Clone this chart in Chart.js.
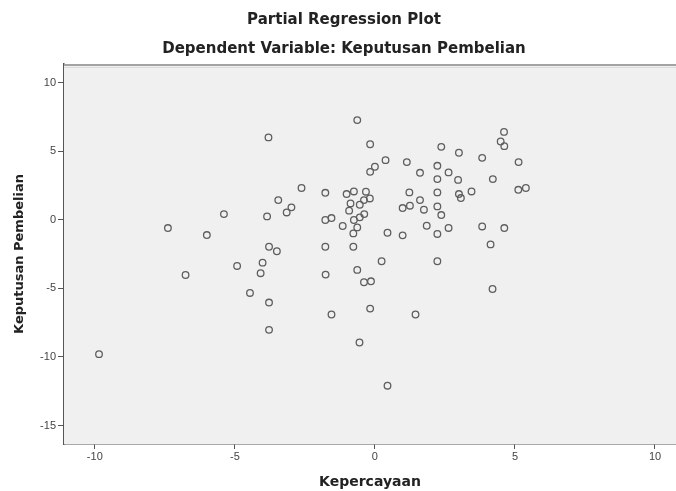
<!DOCTYPE html>
<html lang="en">
<head>
    <meta charset="UTF-8">
    <title>Partial Regression Plot</title>
    <script src="https://cdn.jsdelivr.net/npm/chart.js"></script>
    <style>
        * {
            margin: 0;
            padding: 0;
            box-sizing: border-box;
        }
        body {
            background-color: #fff;
            font-family: 'Liberation Sans', Arial, sans-serif;
        }
        .chart-container {
            width: 676px;
            height: 491px;
        }
    </style>
</head>
<body>
    <div class="chart-container">
        <canvas id="partialChart"></canvas>
    </div>

    <script>
        // Kepercayaan (x) and Keputusan Pembelian (y) residuals
        const kepercayaan = [
            -3.8, -3.45, -5.39, -3.85, -7.39, -6.0, -3.78, -0.63, -0.17, 2.37,
            0.38, 1.14, 0.0, -0.17, 2.23, 2.63, 1.61, 2.23, 2.97, -2.62,
            -1.77, -1.01, -0.75, -0.32, 1.23, 2.23, 3.0, -0.39, -0.18, -0.87,
            -0.54, 1.61, -2.98, -3.15, 1.25, 0.99, 1.75, 2.23, 2.37, -0.92,
            -1.77, -1.55, -0.75, -0.54, -0.38, -1.15, -0.63, -0.77, 0.45, 0.99,
            1.85, 2.23, 2.63, -3.5, -1.77, -0.77, 4.61, 4.49, 4.62, 3.0,
            3.83, 5.13, 4.21, 3.45, 3.07, 5.12, 5.39, 3.83, 4.62, 4.13,
            -4.92, -4.01, -4.08, -6.76, -4.46, -3.78, -3.78, -9.85, 0.24, 2.23,
            -1.76, -0.63, -0.39, -0.14, -1.55, -0.17, 1.45, -0.55, 0.45, 4.2
        ];
        const keputusan = [
            6.0, 1.43, 0.41, 0.24, -0.61, -1.12, -1.97, 7.26, 5.5, 5.31,
            4.34, 4.2, 3.86, 3.49, 3.93, 3.45, 3.42, 2.96, 2.9, 2.31,
            1.96, 1.87, 2.06, 2.04, 1.99, 1.99, 1.87, 1.43, 1.55, 1.19,
            1.09, 1.43, 0.9, 0.53, 1.02, 0.85, 0.73, 0.97, 0.34, 0.66,
            -0.02, 0.12, -0.02, 0.17, 0.41, -0.46, -0.56, -1.0, -0.95, -1.14,
            -0.44, -1.04, -0.6, -2.3, -1.97, -1.97, 6.4, 5.7, 5.36, 4.88,
            4.51, 4.2, 2.96, 2.06, 1.58, 2.18, 2.31, -0.49, -0.61, -1.8,
            -3.37, -3.13, -3.9, -4.03, -5.34, -6.04, -8.03, -9.8, -3.03, -3.03,
            -4.0, -3.66, -4.56, -4.49, -6.91, -6.48, -6.91, -8.95, -12.1, -5.05
        ];
        const xTicks = [-10, -5, 0, 5, 10];
        const yTicks = [-15, -10, -5, 0, 5, 10];

        const points = kepercayaan.map((x, i) => ({ x: x, y: keputusan[i] }));

        const wideFont = "'DejaVu Sans', Verdana, sans-serif";

        // grey plot area with the darker top edge SPSS draws
        const plotFrame = {
            id: 'plotFrame',
            beforeDatasetsDraw(chart) {
                const { ctx, chartArea: a } = chart;
                ctx.save();
                ctx.fillStyle = '#f0f0f0';
                ctx.fillRect(a.left, a.top, a.right - a.left, a.bottom - a.top);
                ctx.strokeStyle = '#a3a3a3';
                ctx.lineWidth = 2;
                ctx.beginPath();
                ctx.moveTo(a.left, a.top + 1);
                ctx.lineTo(a.right, a.top + 1);
                ctx.stroke();
                ctx.strokeStyle = '#dcdcdc';
                ctx.lineWidth = 1;
                ctx.beginPath();
                ctx.moveTo(a.left, a.top + 3.5);
                ctx.lineTo(a.right, a.top + 3.5);
                ctx.stroke();
                ctx.restore();
            }
        };

        function keepTicks(values) {
            return scale => {
                scale.ticks = values.map(v => ({ value: v }));
            };
        }

        Chart.defaults.font.family = "'Liberation Sans', Arial, sans-serif";

        new Chart(document.getElementById('partialChart').getContext('2d'), {
            type: 'scatter',
            data: {
                datasets: [{
                    data: points,
                    pointStyle: 'circle',
                    pointRadius: 3.3,
                    pointBorderWidth: 1.3,
                    pointBorderColor: '#5e5e5e',
                    pointBackgroundColor: 'rgba(0,0,0,0)'
                }]
            },
            options: {
                responsive: true,
                maintainAspectRatio: false,
                animation: false,
                layout: {
                    autoPadding: false,
                    padding: { left: 12, right: 0, top: 0, bottom: 0 }
                },
                plugins: {
                    legend: { display: false },
                    tooltip: { enabled: false },
                    title: {
                        display: true,
                        text: 'Partial Regression Plot',
                        color: '#222',
                        font: { family: wideFont, size: 15, weight: 'bold' },
                        padding: { top: 11, bottom: 6 }
                    },
                    subtitle: {
                        display: true,
                        text: 'Dependent Variable: Keputusan Pembelian',
                        color: '#222',
                        font: { family: wideFont, size: 15, weight: 'bold' },
                        padding: { top: 5, bottom: 6 }
                    }
                },
                scales: {
                    x: {
                        type: 'linear',
                        min: -11.1,
                        max: 10.75,
                        afterBuildTicks: keepTicks(xTicks),
                        afterFit: scale => {
                            scale.height = 47;
                            scale.paddingRight = 0;
                        },
                        grid: {
                            display: true,
                            drawOnChartArea: false,
                            drawTicks: true,
                            tickLength: 5,
                            color: '#555'
                        },
                        border: { color: '#555', width: 1.5 },
                        ticks: {
                            color: '#444',
                            font: { size: 11 },
                            padding: 1,
                            maxRotation: 0
                        },
                        title: {
                            display: true,
                            text: 'Kepercayaan',
                            color: '#222',
                            font: { family: wideFont, size: 14, weight: 'bold' },
                            padding: { top: 6, bottom: 0 }
                        }
                    },
                    y: {
                        type: 'linear',
                        min: -16.35,
                        max: 11.35,
                        afterBuildTicks: keepTicks(yTicks),
                        afterFit: scale => { scale.width = 52; },
                        grid: {
                            display: true,
                            drawOnChartArea: false,
                            drawTicks: true,
                            tickLength: 6,
                            color: '#555'
                        },
                        border: { color: '#555', width: 1.5 },
                        ticks: {
                            color: '#444',
                            font: { size: 11 },
                            padding: 2
                        },
                        title: {
                            display: true,
                            text: 'Keputusan Pembelian',
                            color: '#222',
                            font: { family: wideFont, size: 13, weight: 'bold' },
                            padding: { top: 0, bottom: 3 }
                        }
                    }
                }
            },
            plugins: [plotFrame]
        });
    </script>
</body>
</html>
